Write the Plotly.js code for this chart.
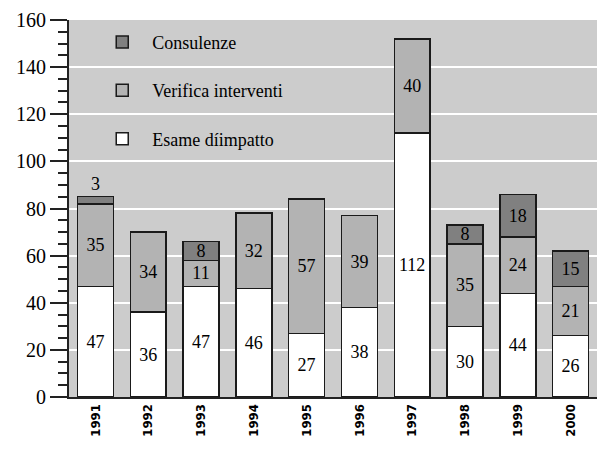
<!DOCTYPE html>
<html><head><meta charset="utf-8">
<script src="https://cdn.plot.ly/plotly-3.0.1.min.js"></script>
<style>body{margin:0;padding:0;background:#fff}#c{width:597px;height:457px}</style>
</head><body><div id="c"></div>
<script>
const years = ['1991','1992','1993','1994','1995','1996','1997','1998','1999','2000'];
const esame = [47, 36, 47, 46, 27, 38, 112, 30, 44, 26];
const verifica = [35, 34, 11, 32, 57, 39, 40, 35, 24, 21];
const consulenze = [3, null, 8, null, null, null, null, 8, 18, 15];
const yTicks = [0, 20, 40, 60, 80, 100, 120, 140, 160];

const serif = 'Liberation Serif';
function mk(name, vals, color, rank, textpos) {
  return {
    type: 'bar', name: name, x: years, y: vals,
    text: vals.map(v => v == null ? '' : String(v)),
    textposition: textpos || 'inside',
    insidetextanchor: 'middle',
    constraintext: 'none',
    textangle: 0,
    textfont: {family: serif, size: 18, color: '#000'},
    marker: {color: color, line: {color: '#1a1a1a', width: 1.5}},
    legendgroup: name, legendrank: rank, hoverinfo: 'none'
  };
}
const data = [
  mk('Esame díimpatto', esame, '#ffffff', 3),
  mk('Verifica interventi', verifica, '#b3b3b3', 2),
  mk('Consulenze', consulenze, '#808080', 1, consulenze.map(v => (v != null && v < 5) ? 'outside' : 'inside'))
];
const layout = {
  width: 597, height: 457,
  margin: {l: 69, r: 0, t: 20, b: 60},
  paper_bgcolor: '#ffffff', plot_bgcolor: '#cccccc',
  barmode: 'stack', bargap: 0.32,
  showlegend: true,
  legend: {x: 0.044, y: 0.99, xanchor: 'left', yanchor: 'top', bgcolor: 'rgba(0,0,0,0)',
    traceorder: 'grouped', tracegroupgap: 22, itemwidth: 50,
    font: {family: serif, size: 18, color: '#000'}},
  xaxis: {type: 'category', tickangle: -90, showgrid: false, ticks: '',
    showline: true, linecolor: '#222', linewidth: 2,
    tickfont: {family: 'DejaVu Sans Condensed', size: 13, color: '#000', weight: 'bold'}},
  yaxis: {range: [0, 160], tickvals: yTicks, ticktext: yTicks.map(String),
    showgrid: true, gridcolor: '#ffffff', gridwidth: 2, zeroline: false,
    showline: true, linecolor: '#222', linewidth: 2,
    ticks: 'outside', ticklen: 17, tickwidth: 2, tickcolor: '#222',
    minor: {dtick: 5, ticks: 'outside', ticklen: 9, tickwidth: 2, tickcolor: '#222', showgrid: false},
    tickfont: {family: serif, size: 20, color: '#000'}}
};
Plotly.newPlot('c', data, layout, {displayModeBar: false, staticPlot: true});
</script></body></html>
